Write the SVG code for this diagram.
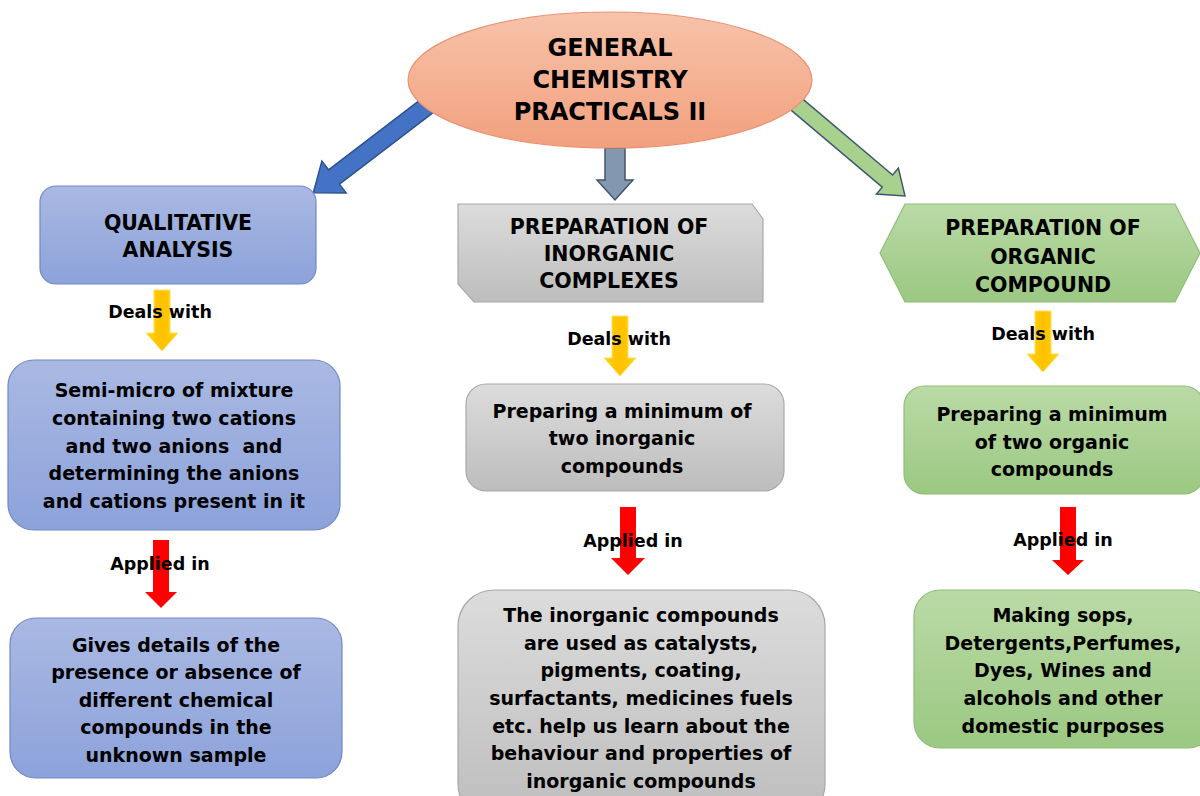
<svg xmlns="http://www.w3.org/2000/svg" width="1200" height="796" viewBox="0 0 1200 796">
<defs>
<linearGradient id="gBlue" x1="0" y1="0" x2="0" y2="1"><stop offset="0" stop-color="#AAB9E3"/><stop offset="1" stop-color="#8CA2DA"/></linearGradient>
<linearGradient id="gGray" x1="0" y1="0" x2="0" y2="1"><stop offset="0" stop-color="#DCDCDC"/><stop offset="1" stop-color="#BDBDBD"/></linearGradient>
<linearGradient id="gGreen" x1="0" y1="0" x2="0" y2="1"><stop offset="0" stop-color="#BADAA6"/><stop offset="1" stop-color="#9BC882"/></linearGradient>
<linearGradient id="gSalmon" x1="0" y1="0" x2="0" y2="1"><stop offset="0" stop-color="#F7C3AA"/><stop offset="1" stop-color="#F2A07E"/></linearGradient>
<linearGradient id="gYellow" x1="0" y1="0" x2="1" y2="0"><stop offset="0" stop-color="#FFD400"/><stop offset="0.5" stop-color="#FFC000"/><stop offset="1" stop-color="#FFD400"/></linearGradient>
</defs>
<style>
text{font-family:"DejaVu Sans","Liberation Sans",sans-serif;font-weight:bold;fill:#000;text-anchor:middle}
.t{font-size:24px}
.h{font-size:20.5px}
.b{font-size:19px}
.l{font-size:17.5px}
.blue{fill:url(#gBlue);stroke:#7389C6;stroke-width:1.2}
.gray{fill:url(#gGray);stroke:#A8A8A8;stroke-width:1.2}
.green{fill:url(#gGreen);stroke:#8DBF75;stroke-width:1.2}
.ya{fill:url(#gYellow);stroke:#FFE060;stroke-width:1}
.ra{fill:#FF0000}
</style>

<g id="connectors">
<polygon transform="translate(427,106) rotate(142.65)" points="0,-9 117,-9 117,-20 143,0 117,20 117,9 0,9" fill="#4472C4" stroke="#2F528F" stroke-width="1.5"/>
<polygon points="605,148 625,148 625,180 633,180 615,200 597,180 605,180" fill="#8497B0" stroke="#44546A" stroke-width="1.5"/>
<polygon transform="translate(795,103) rotate(40.2)" points="0,-8 121,-8 121,-17 144,0 121,17 121,8 0,8" fill="#A9D18E" stroke="#3F5872" stroke-width="1.5"/>
<polygon class="ya" points="154,290 170,290 170,333 178,333 162,351 146,333 154,333"/>
<polygon class="ya" points="612,316 628,316 628,358 636,358 620,376 604,358 612,358"/>
<polygon class="ya" points="1035,311 1051,311 1051,354 1059,354 1043,372 1027,354 1035,354"/>
<polygon class="ra" points="153,540 169,540 169,592 177,592 161,608 145,592 153,592"/>
<polygon class="ra" points="620,507 636,507 636,558 645,558 628,575 611,558 620,558"/>
<polygon class="ra" points="1060,507 1076,507 1076,560 1084,560 1068,575 1052,560 1060,560"/>
<text class="l" x="160" y="318">Deals with</text>
<text class="l" x="619" y="345">Deals with</text>
<text class="l" x="1043" y="340">Deals with</text>
<text class="l" x="160" y="570">Applied in</text>
<text class="l" x="633" y="547">Applied in</text>
<text class="l" x="1063" y="546">Applied in</text>
</g>

<g id="root">
<ellipse cx="610" cy="80" rx="202" ry="68" fill="url(#gSalmon)" stroke="#E99272" stroke-width="1.2"/>
<text class="t" x="610" y="56">GENERAL</text>
<text class="t" x="610" y="88">CHEMISTRY</text>
<text class="t" x="610" y="120">PRACTICALS II</text>
</g>

<g id="qualitative">
<rect class="blue" x="40" y="186" width="276" height="98" rx="16"/>
<text class="h" x="178" y="230">QUALITATIVE</text>
<text class="h" x="178" y="257">ANALYSIS</text>
</g>

<g id="inorganic">
<polygon class="gray" points="458,204 752,204 763,219 763,302 474,302 458,284"/>
<text class="h" x="609" y="234">PREPARATION OF</text>
<text class="h" x="609" y="261">INORGANIC</text>
<text class="h" x="609" y="288">COMPLEXES</text>
</g>

<g id="organic">
<polygon class="green" points="880,253 905,204 1175,204 1200,253 1175,302 905,302"/>
<text class="h" x="1043" y="235">PREPARATI0N OF</text>
<text class="h" x="1043" y="264">ORGANIC</text>
<text class="h" x="1043" y="292">COMPOUND</text>
</g>

<g id="semimicro">
<rect class="blue" x="8" y="360" width="332" height="170" rx="26"/>
<text class="b" x="174" y="397">Semi-micro of mixture</text>
<text class="b" x="174" y="425">containing two cations</text>
<text class="b" x="174" y="453" xml:space="preserve">and two anions  and</text>
<text class="b" x="174" y="480">determining the anions</text>
<text class="b" x="174" y="508">and cations present in it</text>
</g>

<g id="prep-inorganic">
<rect class="gray" x="466" y="384" width="318" height="107" rx="20"/>
<text class="b" x="622" y="418">Preparing a minimum of</text>
<text class="b" x="622" y="445">two inorganic</text>
<text class="b" x="622" y="473">compounds</text>
</g>

<g id="prep-organic">
<rect class="green" x="904" y="386" width="300" height="108" rx="20"/>
<text class="b" x="1052" y="421">Preparing a minimum</text>
<text class="b" x="1052" y="449">of two organic</text>
<text class="b" x="1052" y="476">compounds</text>
</g>

<g id="gives-details">
<rect class="blue" x="10" y="618" width="332" height="160" rx="26"/>
<text class="b" x="176" y="652">Gives details of the</text>
<text class="b" x="176" y="679">presence or absence of</text>
<text class="b" x="176" y="707">different chemical</text>
<text class="b" x="176" y="734">compounds in the</text>
<text class="b" x="176" y="762">unknown sample</text>
</g>

<g id="inorganic-uses">
<rect class="gray" x="458" y="590" width="367" height="230" rx="36"/>
<text class="b" x="641" y="622">The inorganic compounds</text>
<text class="b" x="641" y="650">are used as catalysts,</text>
<text class="b" x="641" y="677">pigments, coating,</text>
<text class="b" x="641" y="705">surfactants, medicines fuels</text>
<text class="b" x="641" y="733">etc. help us learn about the</text>
<text class="b" x="641" y="760">behaviour and properties of</text>
<text class="b" x="641" y="788">inorganic compounds</text>
</g>

<g id="organic-uses">
<rect class="green" x="914" y="590" width="300" height="158" rx="26"/>
<text class="b" x="1063" y="622">Making sops,</text>
<text class="b" x="1063" y="650">Detergents,Perfumes,</text>
<text class="b" x="1063" y="677">Dyes, Wines and</text>
<text class="b" x="1063" y="705">alcohols and other</text>
<text class="b" x="1063" y="733">domestic purposes</text>
</g>
</svg>
